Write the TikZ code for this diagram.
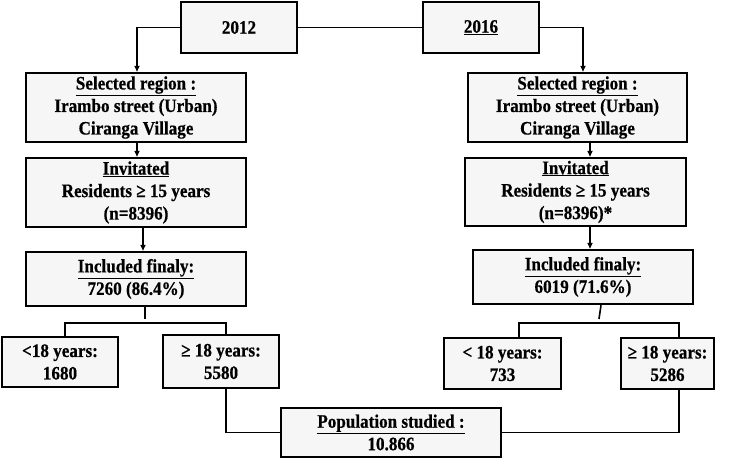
\documentclass[tikz,border=0pt]{standalone}
\usepackage{fontspec}
\setmainfont{Liberation Serif}[FakeStretch=0.9,FakeBold=0.6]
\usetikzlibrary{arrows.meta}

\begin{document}
\begin{tikzpicture}[x=1pt,y=-1pt,
  box/.style={draw,line width=2.4pt,fill=gray!7,align=center,inner sep=0pt,
    font=\bfseries\fontsize{19}{22.5}\selectfont},
  arr/.style={-{Triangle[length=6pt,width=5pt]}},
  wire/.style={line width=1.6pt}]
  \useasboundingbox (0,0) rectangle (740,460);
  % years
  \node[box,minimum width=116pt,minimum height=51pt] (y12) at (239,27.5) {2012};
  \node[box,minimum width=116pt,minimum height=51pt] (y16) at (481,27.5) {\underline{2016}};
  % 2012 column
  \node[box,minimum width=220pt,minimum height=69pt] (selL) at (136,107.5)
    {\underline{Selected region :}\\Irambo street (Urban)\\Ciranga Village};
  \node[box,minimum width=220pt,minimum height=69pt] (invL) at (136,192.5)
    {\underline{Invitated}\\Residents ≥ 15 years\\(n=8396)};
  \node[box,minimum width=220pt,minimum height=54pt] (incL) at (136,279)
    {\underline{Included finaly:}\\7260 (86.4\%)};
  \node[box,minimum width=116pt,minimum height=50pt] (youngL) at (60,362) {<18 years:\\1680};
  \node[box,minimum width=116pt,minimum height=53pt] (oldL) at (221,361.5) {≥ 18 years:\\5580};
  % 2016 column
  \node[box,minimum width=219pt,minimum height=69pt] (selR) at (577.5,107.5)
    {\underline{Selected region :}\\Irambo street (Urban)\\Ciranga Village};
  \node[box,minimum width=221pt,minimum height=68pt] (invR) at (575.5,192)
    {\underline{Invitated}\\Residents ≥ 15 years\\(n=8396)*};
  \node[box,minimum width=220pt,minimum height=54pt] (incR) at (583,277)
    {\underline{Included finaly:}\\6019 (71.6\%)};
  \node[box,minimum width=117pt,minimum height=51pt] (youngR) at (502.5,363.5) {< 18 years:\\733};
  \node[box,minimum width=93pt,minimum height=51pt] (oldR) at (667.5,363.5) {≥ 18 years:\\5286};
  % pooled
  \node[box,minimum width=220pt,minimum height=49pt] (pop) at (391,432.5)
    {\underline{Population studied :}\\10.866};
  \coordinate (forkL) at (145,323);
  \coordinate (forkR) at (600,323);

  \draw[wire] (y12.east) -- (y16.west);
  \draw[wire,arr] (y12.west) -| ([xshift=1pt]selL.north);
  \draw[wire,arr] (y16.east) -| ([xshift=5.5pt]selR.north);
  \draw[wire,arr] ([xshift=1pt]selL.south) -- ([xshift=1pt]invL.north);
  \draw[wire,arr] ([xshift=7pt]invL.south) -- ([xshift=7pt]incL.north);
  \draw[wire,arr] ([xshift=12.5pt]selR.south) -- ([xshift=12.5pt]selR.south |- invR.north);
  \draw[wire,arr] ([xshift=14.5pt]invR.south) -- ([xshift=14.5pt]invR.south |- incR.north);
  % split by age
  \draw[wire] ([xshift=9pt]incL.south) -- ([yshift=4pt]forkL);
  \draw[wire] ([xshift=18pt]incR.south) -- ([xshift=-1pt,yshift=4pt]forkR);
  \draw[wire] ([xshift=5pt]youngL.north) |- (forkL) -| ([xshift=5pt]oldL.north);
  \draw[wire] ([xshift=16.5pt]youngR.north) |- (forkR) -| ([xshift=11.5pt]oldR.north);
  \draw[wire] ([xshift=5pt]oldL.south) |- (pop.west);
  \draw[wire] ([xshift=11.5pt]oldR.south) |- (pop.east);
\end{tikzpicture}
\end{document}
